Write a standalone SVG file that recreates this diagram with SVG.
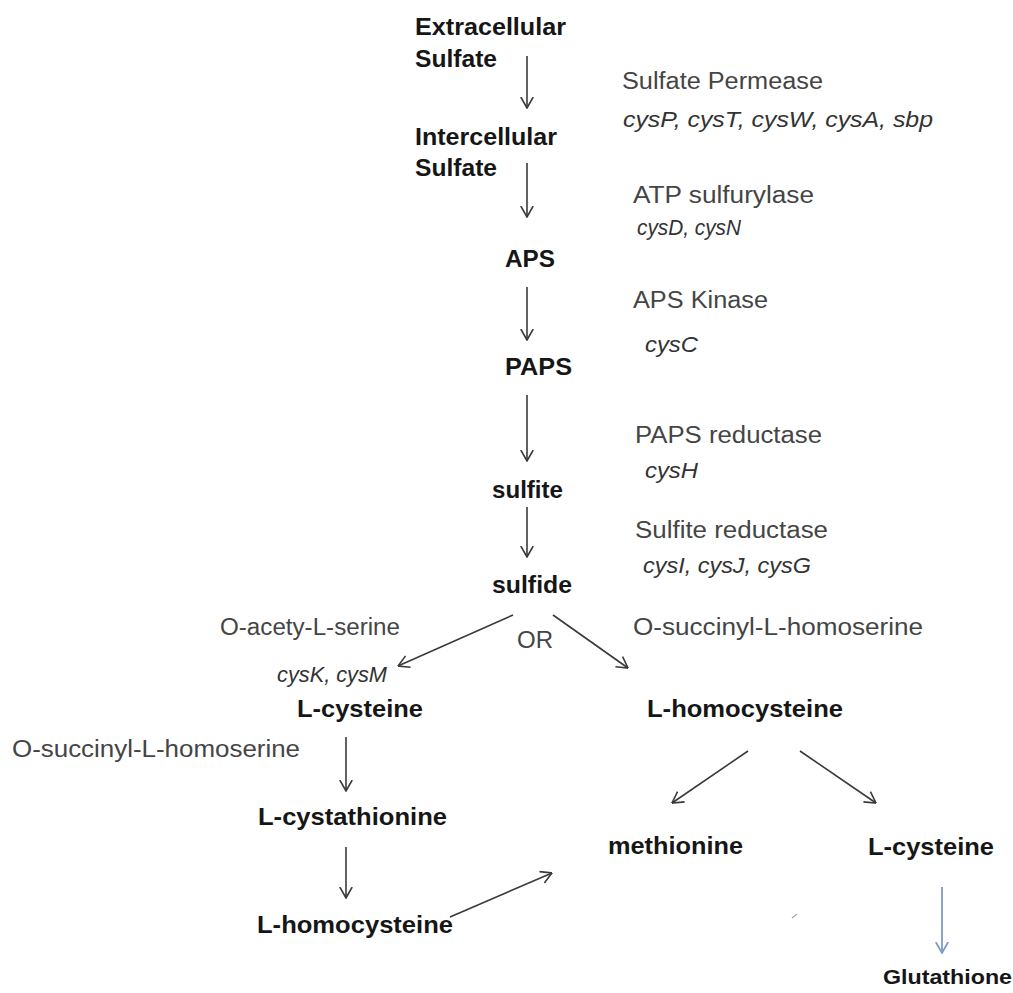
<svg xmlns="http://www.w3.org/2000/svg" width="1013" height="993" viewBox="0 0 1013 993">
<defs>
<style>
text{font-family:"Liberation Sans",Arial,sans-serif}
.b{font-weight:bold;font-size:24px;fill:#161616}
.r{font-size:23px;fill:#454545}
.i{font-style:italic;font-size:22px;fill:#333}
.c{stroke:#3a3a3a;stroke-width:1.6;fill:none;marker-end:url(#ah)}
.cb{stroke:#7f9bc6;stroke-width:1.8;fill:none;marker-end:url(#ahb)}
</style>
<marker id="ah" viewBox="0 0 12 14" refX="11.5" refY="7" markerWidth="12" markerHeight="14" markerUnits="userSpaceOnUse" orient="auto"><path d="M0.5,0.8 L11.5,7 L0.5,13.2" fill="none" stroke="#3a3a3a" stroke-width="1.6"/></marker>
<marker id="ahb" viewBox="0 0 12 14" refX="11.5" refY="7" markerWidth="12" markerHeight="14" markerUnits="userSpaceOnUse" orient="auto"><path d="M0.5,0.8 L11.5,7 L0.5,13.2" fill="none" stroke="#7f9bc6" stroke-width="1.8"/></marker>
</defs>
<rect width="1013" height="993" fill="#fff"/>
<g id="connectors">
<line class="c" x1="527" y1="56" x2="527" y2="108"/>
<line class="c" x1="527" y1="163" x2="527" y2="217"/>
<line class="c" x1="527" y1="287" x2="527" y2="340"/>
<line class="c" x1="527" y1="395" x2="527" y2="461"/>
<line class="c" x1="527" y1="507" x2="527" y2="557"/>
<line class="c" x1="513" y1="615" x2="398" y2="666"/>
<line class="c" x1="553" y1="615" x2="628" y2="668"/>
<line class="c" x1="346" y1="737" x2="346" y2="791"/>
<line class="c" x1="346" y1="847" x2="346" y2="898"/>
<line class="c" x1="450" y1="917" x2="552" y2="873"/>
<line class="c" x1="748" y1="751" x2="672" y2="803"/>
<line class="c" x1="800" y1="751" x2="876" y2="803"/>
<line class="cb" x1="942" y1="887" x2="942" y2="953"/>
</g>
<g id="extracellular-sulfate"><text class="b" x="415" y="35" textLength="151" lengthAdjust="spacingAndGlyphs">Extracellular</text><text class="b" x="415" y="67" textLength="82" lengthAdjust="spacingAndGlyphs">Sulfate</text></g>
<g id="intercellular-sulfate"><text class="b" x="415" y="145" textLength="142" lengthAdjust="spacingAndGlyphs">Intercellular</text><text class="b" x="415" y="176" textLength="82" lengthAdjust="spacingAndGlyphs">Sulfate</text></g>
<g id="aps"><text class="b" x="505" y="267" textLength="50" lengthAdjust="spacingAndGlyphs">APS</text></g>
<g id="paps"><text class="b" x="505" y="375" textLength="67" lengthAdjust="spacingAndGlyphs">PAPS</text></g>
<g id="sulfite"><text class="b" x="492" y="498" textLength="71" lengthAdjust="spacingAndGlyphs">sulfite</text></g>
<g id="sulfide"><text class="b" x="492" y="593" textLength="80" lengthAdjust="spacingAndGlyphs">sulfide</text></g>
<g id="l-cysteine-1"><text class="b" x="297" y="717" textLength="126" lengthAdjust="spacingAndGlyphs">L-cysteine</text></g>
<g id="l-cystathionine"><text class="b" x="258" y="825" textLength="189" lengthAdjust="spacingAndGlyphs">L-cystathionine</text></g>
<g id="l-homocysteine-1"><text class="b" x="257" y="933" textLength="196" lengthAdjust="spacingAndGlyphs">L-homocysteine</text></g>
<g id="l-homocysteine-2"><text class="b" x="647" y="717" textLength="196" lengthAdjust="spacingAndGlyphs">L-homocysteine</text></g>
<g id="methionine"><text class="b" x="608" y="854" textLength="135" lengthAdjust="spacingAndGlyphs">methionine</text></g>
<g id="l-cysteine-2"><text class="b" x="868" y="855" textLength="126" lengthAdjust="spacingAndGlyphs">L-cysteine</text></g>
<g id="glutathione"><text class="b" x="883" y="984" style="font-size:20px" textLength="129" lengthAdjust="spacingAndGlyphs">Glutathione</text></g>
<g id="labels">
<text class="r" x="622" y="89" textLength="201" lengthAdjust="spacingAndGlyphs">Sulfate Permease</text>
<text class="i" x="623" y="127" textLength="310" lengthAdjust="spacingAndGlyphs">cysP, cysT, cysW, cysA, sbp</text>
<text class="r" x="633" y="203" textLength="181" lengthAdjust="spacingAndGlyphs">ATP sulfurylase</text>
<text class="i" x="637" y="235" textLength="104" lengthAdjust="spacingAndGlyphs">cysD, cysN</text>
<text class="r" x="633" y="308" textLength="135" lengthAdjust="spacingAndGlyphs">APS Kinase</text>
<text class="i" x="645" y="352" textLength="53" lengthAdjust="spacingAndGlyphs">cysC</text>
<text class="r" x="635" y="443" textLength="187" lengthAdjust="spacingAndGlyphs">PAPS reductase</text>
<text class="i" x="645" y="478" textLength="53" lengthAdjust="spacingAndGlyphs">cysH</text>
<text class="r" x="635" y="538" textLength="193" lengthAdjust="spacingAndGlyphs">Sulfite reductase</text>
<text class="i" x="643" y="573" textLength="168" lengthAdjust="spacingAndGlyphs">cysI, cysJ, cysG</text>
<text class="r" x="633" y="635" textLength="290" lengthAdjust="spacingAndGlyphs">O-succinyl-L-homoserine</text>
<text class="r" x="220" y="635" textLength="180" lengthAdjust="spacingAndGlyphs">O-acety-L-serine</text>
<text class="r" x="517" y="648" textLength="36" lengthAdjust="spacingAndGlyphs">OR</text>
<text class="i" x="277" y="682" textLength="110" lengthAdjust="spacingAndGlyphs">cysK, cysM</text>
<text class="r" x="12" y="757" textLength="288" lengthAdjust="spacingAndGlyphs">O-succinyl-L-homoserine</text>
</g>
<line x1="792" y1="918" x2="797" y2="914" stroke="#aaa" stroke-width="1.5"/>
</svg>
